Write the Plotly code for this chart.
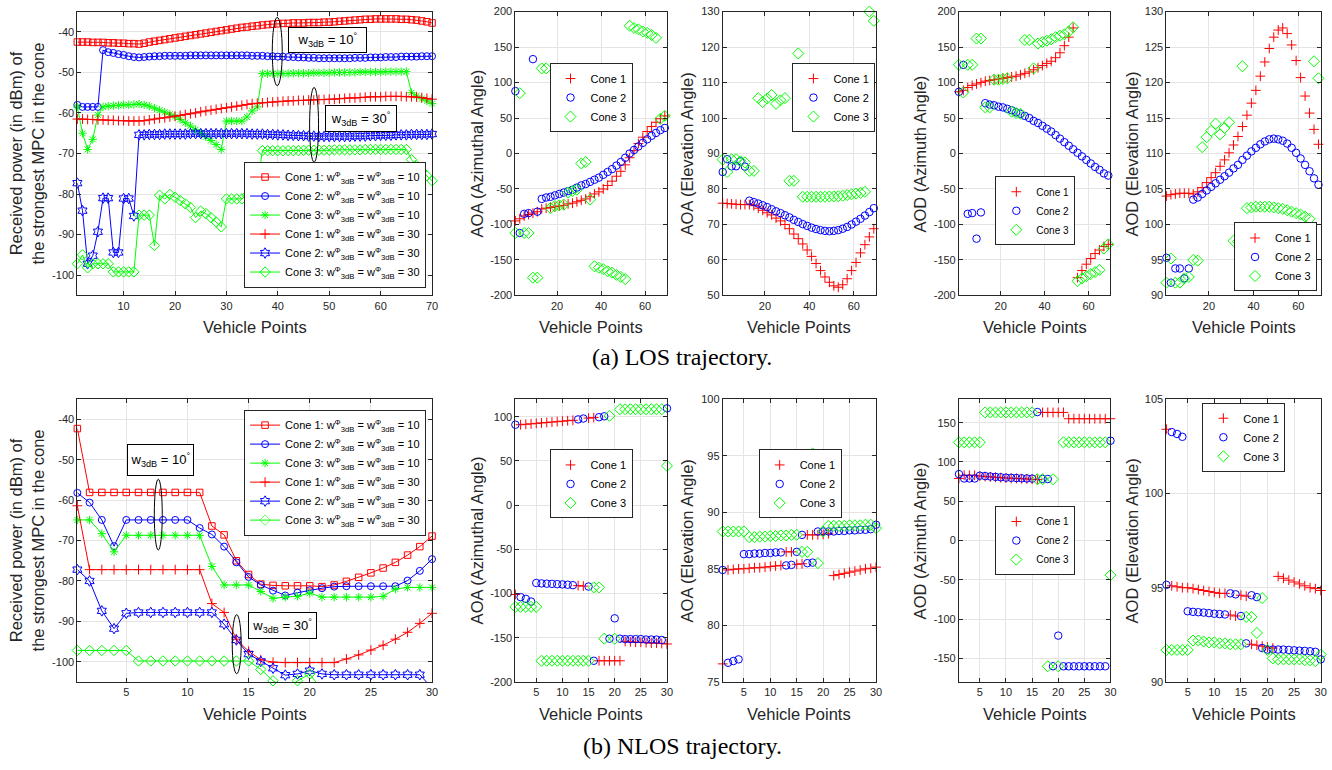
import plotly.graph_objects as go

W, H = 1332, 770
RED, BLUE, GREEN = "#FF0000", "#0000FF", "#00FF00"
AX = "#262626"

# ---------------- data ----------------
x_los = list(range(1, 71))
x_los_odd = list(range(1, 70, 2))
x_nlos = list(range(1, 31))

# (a) LOS power
los_c1_10 = [-42.5,-42.5,-42.5,-42.6,-42.6,-42.6,-42.7,-42.7,-42.8,-42.8,
             -42.9,-42.9,-43.0,-42.8,-42.5,-42.3,-42.1,-41.9,-41.7,-41.5,
             -41.3,-41.1,-40.9,-40.7,-40.5,-40.3,-40.1,-39.9,-39.7,-39.5,
             -39.3,-39.1,-38.9,-38.8,-38.6,-38.5,-38.3,-38.2,-38.1,-38.0,
             -37.9,-37.9,-37.8,-37.8,-37.8,-37.7,-37.7,-37.7,-37.6,-37.6,
             -37.5,-37.4,-37.3,-37.2,-37.1,-37.0,-36.9,-36.9,-36.8,-36.8,
             -36.8,-36.8,-36.8,-36.9,-36.9,-37.0,-37.1,-37.3,-37.5,-37.8]
los_c2_10 = [-58.0,-58.5,-58.5,-58.5,-58.5,-44.5,-45.0,-45.2,-45.5,-45.7,
             -46.0,-46.2,-46.3,-46.2,-46.1,-46.0,-46.0,-45.9,-45.9,-45.9,
             -45.9,-45.9,-45.8,-45.8,-45.8,-45.8,-45.8,-45.8,-45.8,-45.8,
             -45.8,-45.8,-45.8,-45.8,-45.9,-45.9,-45.9,-46.0,-46.0,-46.1,
             -46.1,-46.2,-46.2,-46.3,-46.3,-46.4,-46.4,-46.5,-46.5,-46.5,
             -46.5,-46.5,-46.5,-46.5,-46.4,-46.4,-46.4,-46.3,-46.3,-46.3,
             -46.2,-46.2,-46.2,-46.1,-46.1,-46.1,-46.1,-46.0,-46.0,-46.0]
los_c3_10 = [-58.5,-65.0,-69.0,-66.5,-60.5,-58.5,-58.3,-58.2,-58.1,-58.0,
             -58.0,-57.9,-57.8,-58.0,-58.3,-58.8,-59.3,-59.8,-60.3,-60.9,
             -61.6,-62.4,-63.2,-64.1,-65.0,-65.9,-66.8,-67.8,-69.0,-62.0,
             -62.0,-62.0,-62.0,-61.0,-59.5,-58.5,-50.3,-50.3,-50.3,-50.3,
             -50.3,-50.3,-50.2,-50.2,-50.2,-50.2,-50.1,-50.1,-50.1,-50.1,
             -50.0,-50.0,-50.0,-50.0,-50.0,-49.9,-49.9,-49.9,-49.9,-49.9,
             -49.8,-49.8,-49.8,-49.8,-49.8,-55.0,-55.8,-56.5,-57.0,-57.7]
los_c1_30 = [-61.5,-61.5,-61.6,-61.6,-61.7,-61.7,-61.8,-61.8,-61.9,-61.9,
             -62.0,-62.0,-62.0,-61.9,-61.7,-61.5,-61.3,-61.2,-61.0,-60.8,
             -60.6,-60.4,-60.2,-60.0,-59.7,-59.5,-59.3,-59.1,-58.9,-58.7,
             -58.5,-58.3,-58.1,-57.9,-57.7,-57.6,-57.5,-57.4,-57.3,-57.2,
             -57.1,-57.0,-57.0,-56.9,-56.9,-56.8,-56.8,-56.7,-56.7,-56.6,
             -56.6,-56.5,-56.4,-56.3,-56.3,-56.2,-56.1,-56.0,-56.0,-56.0,
             -55.9,-55.9,-55.9,-55.9,-56.0,-56.0,-56.1,-56.2,-56.4,-56.6]
los_c2_30 = [-77.3,-84.1,-97.2,-95.2,-89.3,-81.0,-81.0,-94.4,-94.4,-81.1,
             -81.1,-85.4,-65.4,-65.4,-65.3,-65.3,-65.3,-65.2,-65.2,-65.2,
             -65.2,-65.2,-65.1,-65.1,-65.1,-65.1,-65.1,-65.1,-65.1,-65.1,
             -65.1,-65.1,-65.1,-65.1,-65.2,-65.2,-65.2,-65.3,-65.3,-65.4,
             -65.4,-65.5,-65.5,-65.6,-65.6,-65.7,-65.7,-65.8,-65.8,-65.8,
             -65.8,-65.8,-65.8,-65.8,-65.7,-65.7,-65.7,-65.6,-65.6,-65.5,
             -65.5,-65.5,-65.4,-65.4,-65.4,-65.3,-65.3,-65.3,-65.3,-65.2]
los_c3_30 = [-97.2,-95.0,-98.2,-97.2,-97.2,-97.2,-97.2,-99.2,-99.2,-99.2,
             -99.2,-99.2,-85.2,-85.2,-85.2,-92.7,-80.3,-81.2,-80.1,-80.8,
             -81.6,-82.4,-83.3,-85.8,-84.2,-84.8,-85.8,-86.9,-88.1,-81.2,
             -81.2,-81.2,-81.2,-80.3,-79.3,-78.0,-69.3,-69.3,-69.3,-69.3,
             -69.3,-69.3,-69.3,-69.3,-69.2,-69.2,-69.2,-69.2,-69.2,-69.2,
             -69.1,-69.1,-69.1,-69.1,-69.1,-69.1,-69.0,-69.0,-69.0,-69.0,
             -69.0,-69.0,-69.0,-69.0,-69.0,-71.5,-73.0,-74.3,-75.5,-76.7]

# (a) LOS angles (odd vehicle points)
los_aoa_az_c1 = [-95,-92,-88,-86,-84,-82,-78,-77,-76,-75,-74,-73,-71,-70,-68,-66,-64,-61,
                 -57,-54,-50,-45,-39,-32,-25,-16,-6,4,14,23,31,38,44,49,53]
los_aoa_az_c2 = [88,-112,-85,-84,133,-82,-64,-62,-61,-59,-57,-55,-53,-51,-48,-45,-43,-40,
                 -37,-34,-30,-26,-22,-17,-12,-6,0,5,10,15,20,25,29,33,36]
los_aoa_az_c3 = [-112,85,-112,-112,-175,-175,120,120,-77,-74,-73,-72,-55,-53,-51,-14,-12,-65,
                 -159,-161,-163,-166,-168,-171,-174,-177,180,177,175,172,170,167,163,49,53]

los_aoa_el_c1 = [76.0,75.9,75.8,75.7,75.6,75.6,75.6,75.3,74.6,74.0,73.3,72.7,71.8,71.0,70.0,
                 68.8,67.3,66.0,64.5,62.8,61.0,59.0,57.0,55.2,53.7,52.7,52.3,53.0,54.7,57.0,
                 59.3,62.0,64.3,66.5,68.8]
los_aoa_el_c2 = [84.8,88.4,86.4,86.4,87.8,86.3,76.7,76.3,75.9,75.4,74.9,74.3,73.7,73.2,72.6,
                 72.0,71.3,70.7,70.1,69.6,69.1,68.7,68.4,68.2,68.1,68.2,68.4,68.8,69.3,70.0,
                 70.8,71.6,72.5,73.5,74.6]
los_aoa_el_c3 = [88.3,84.8,88.4,88.4,87.8,87.5,85.1,85.1,105.6,104.5,105.5,106.5,104.0,105.0,
                 105.6,82.3,82.3,118.2,77.8,77.8,77.8,77.8,77.8,77.8,77.9,77.9,78.0,78.1,78.3,
                 78.5,78.7,78.9,79.2,130.0,127.4]

los_aod_az_c1 = [87,89,93,96,98,100,102,103,104,105,106,107,108,109,111,113,115,118,121,124,
                 127,130,135,142,152,164,177,-175,-165,-156,-148,-141,-136,-131,-128]
los_aod_az_c2 = [87,125,-85,-84,-120,-83,71,69,68,66,65,63,61,58,56,53,50,46,43,39,35,31,26,
                 21,16,11,6,1,-4,-9,-14,-19,-23,-28,-31]
los_aod_az_c3 = [125,86,125,125,162,162,65,65,104,104,105,106,59,57,56,160,160,120,155,157,
                 159,161,164,166,168,172,178,-180,-176,-173,-170,-167,-164,-134,-128]

los_aod_el_c1 = [104.0,104.2,104.3,104.4,104.4,104.4,104.3,104.6,105.2,105.9,106.6,107.3,108.2,
                 109.1,110.1,111.2,112.4,113.8,115.4,117.1,118.9,120.9,122.9,124.8,126.4,127.4,
                 127.7,126.9,125.3,123.1,120.7,118.1,115.7,113.4,111.3]
los_aod_el_c2 = [95.3,91.8,93.8,93.8,92.4,93.8,103.5,103.8,104.3,104.8,105.3,105.8,106.3,106.8,
                 107.3,107.9,108.4,109.1,109.7,110.3,110.8,111.3,111.7,112.0,112.1,112.0,111.8,
                 111.4,110.8,110.1,109.3,108.4,107.5,106.5,105.6]
los_aod_el_c3 = [91.8,95.2,91.8,91.8,92.4,92.6,95.0,94.9,110.9,112.3,113.2,114.2,112.7,113.6,
                 114.4,97.7,97.6,122.3,102.3,102.4,102.5,102.5,102.5,102.5,102.4,102.3,102.2,
                 102.0,101.8,101.6,101.4,101.1,100.8,123.0,120.6]

# (b) NLOS power
nlos_c1_10 = [-42.3,-58.1,-58.1,-58.1,-58.1,-58.1,-58.1,-58.1,-58.1,-58.1,-58.1,-66.4,-68.6,-75.0,
              -78.4,-80.8,-81.1,-81.2,-81.2,-81.2,-81.4,-81.0,-80.1,-79.1,-78.0,-76.8,-75.4,-73.6,
              -71.5,-68.9]
nlos_c2_10 = [-58.2,-60.6,-64.9,-71.4,-64.9,-64.9,-64.9,-64.9,-64.9,-64.9,-66.9,-68.5,-71.5,-75.4,
              -79.0,-81.0,-82.4,-83.6,-82.9,-82.3,-81.8,-81.4,-81.3,-81.3,-81.3,-81.3,-81.3,-79.9,
              -77.5,-74.6]
nlos_c3_10 = [-64.9,-64.9,-68.3,-72.8,-68.7,-68.7,-68.7,-68.7,-68.7,-68.7,-68.7,-76.4,-81.0,-81.0,
              -81.0,-82.6,-84.3,-84.0,-83.8,-83.0,-84.0,-84.0,-84.0,-84.0,-84.0,-83.8,-82.0,-81.6,
              -81.6,-81.6]
nlos_c1_30 = [-61.4,-77.2,-77.2,-77.2,-77.2,-77.2,-77.2,-77.2,-77.2,-77.2,-77.2,-85.6,-87.8,-94.4,
              -97.4,-99.5,-100.1,-100.2,-100.2,-100.2,-100.2,-100.2,-99.3,-98.3,-97.1,-95.9,-94.4,
              -92.7,-90.5,-88.0]
nlos_c2_30 = [-77.2,-80.0,-87.4,-91.8,-88.0,-87.8,-87.8,-87.8,-87.8,-87.8,-87.8,-87.8,-90.7,-94.6,
              -98.1,-99.9,-101.6,-103.3,-103.0,-102.2,-103.0,-103.2,-103.2,-103.2,-103.2,-103.2,
              -103.2,-103.2,-103.2,-106.5]
nlos_c3_30 = [-97.2,-97.2,-97.2,-97.2,-97.2,-99.8,-99.8,-99.8,-99.8,-99.8,-99.8,-99.8,-99.8,-99.8,
              -99.8,-101.9,-104.7,-106.5,-104.7,-103.0,-107.0,-108.0,-108.0,-108.0,-108.0,-108.0,
              -108.0,-108.0,-108.0,-108.0]

# (b) NLOS angles
nlos_aoa_az_c1 = [-101,91,91.5,92,92.5,93,93.5,94,94.5,95,95.5,96,-91,-91.5,98.5,99,-176,-176,
                  -176,-176,-176,-154,-154.5,-155,-155,-155.5,-156,-156,-156.5,-157]
nlos_aoa_az_c2 = [91,-104,-106,-109,-88,-88.5,-88.8,-89,-89.3,-89.6,-90,-90.5,97,98,-92,-176,99.5,
                  100.5,-151,-128,-151,-151.5,-151.5,-151.5,-151.5,-152,-152,-152,-152.5,109.5]
nlos_aoa_az_c3 = [-115,-115,-115,-115,-115,-176,-176,-176,-176,-176,-176,-176,-176,-176,-176,-93,
                  -93,-151,101,-151,108.5,108.5,108.5,108.5,108.5,108.5,108.5,108.5,108.5,44.5]

nlos_aoa_el_c1 = [76.6,84.9,84.95,85.0,85.0,85.05,85.1,85.1,85.15,85.2,85.25,85.3,86.5,86.5,85.4,
                  85.45,88.0,88.0,88.0,88.05,88.1,84.4,84.5,84.6,84.7,84.8,84.9,85.0,85.05,85.15]
nlos_aoa_el_c2 = [84.9,76.7,76.85,77.0,86.3,86.3,86.35,86.35,86.4,86.4,86.45,86.45,85.3,85.35,86.5,
                  88.0,85.5,85.55,88.3,88.3,88.3,88.3,88.35,88.35,88.4,88.4,88.45,88.45,88.5,88.9]
nlos_aoa_el_c3 = [88.3,88.3,88.3,88.3,88.3,87.8,87.8,87.85,87.85,87.9,87.9,87.95,87.95,88.0,88.0,
                  86.5,86.5,95.2,85.5,88.3,88.8,88.8,88.8,88.8,88.85,88.85,88.85,88.9,88.9,88.6]

nlos_aod_az_c1 = [79,83,83,83,82,81.5,81,80.5,80,79.5,79.2,79,78.7,78.4,78,77.8,163,163,163,163,163,
                  155,155,155,155,155,155,155,155,155]
nlos_aod_az_c2 = [84.5,79,79,79,82.5,82,81.5,81,80.5,80,79.8,79.5,79.2,79,78.8,163.5,78.5,78.3,-160,
                  -121,-160,-160,-160,-160,-160,-160,-160,-160,-160,127]
nlos_aod_az_c3 = [125,125,125,125,125,163,163,163,163,163,163,163,163,163,163,78,78,-160,78,-160,
                  125,125,125,125,125,125,125,125,125,-44]

nlos_aod_el_c1 = [103.4,95.1,95.05,95.0,95.0,94.95,94.9,94.85,94.8,94.75,94.7,94.7,93.55,93.5,94.6,
                  94.55,92.0,91.95,91.9,91.85,91.8,95.6,95.5,95.4,95.3,95.2,95.1,95.0,94.95,94.85]
nlos_aod_el_c2 = [95.15,103.25,103.15,103.0,93.75,93.72,93.7,93.68,93.65,93.62,93.6,93.58,94.7,94.65,
                  93.5,92.05,94.6,94.5,91.8,91.72,91.72,91.72,91.72,91.7,91.68,91.66,91.65,91.63,
                  91.6,91.2]
nlos_aod_el_c3 = [91.7,91.7,91.7,91.7,91.7,92.2,92.2,92.15,92.1,92.1,92.05,92.05,92.0,92.0,92.0,
                  93.45,93.45,92.6,94.45,91.7,91.25,91.2,91.2,91.2,91.2,91.2,91.15,91.15,91.1,91.45]

# ---------------- layout geometry ----------------
cols = [(77.7, 434.0), (517.7, 670.0), (726.0, 880.0), (963.3, 1115.5), (1171.7, 1326.7)]
rows = [(5.7, 294.0), (399.3, 686.7)]


def px(v):
    return v / W


def py(v):
    return 1 - v / H


panels = [
    dict(xr=[1, 70], xt=list(range(10, 71, 10)), yr=[-105, -35], yt=list(range(-100, -39, 10))),
    dict(xr=[1, 70], xt=[20, 40, 60], yr=[-200, 200], yt=list(range(-200, 201, 50))),
    dict(xr=[1, 70], xt=[20, 40, 60], yr=[50, 130], yt=list(range(50, 131, 10))),
    dict(xr=[1, 70], xt=[20, 40, 60], yr=[-200, 200], yt=list(range(-200, 201, 50))),
    dict(xr=[1, 70], xt=[20, 40, 60], yr=[90, 130], yt=list(range(90, 131, 5))),
    dict(xr=[1, 30], xt=list(range(5, 31, 5)), yr=[-105, -35], yt=list(range(-100, -39, 10))),
    dict(xr=[1, 30], xt=list(range(5, 31, 5)), yr=[-200, 120], yt=list(range(-200, 101, 50))),
    dict(xr=[1, 30], xt=list(range(5, 31, 5)), yr=[75, 100], yt=list(range(75, 101, 5))),
    dict(xr=[1, 30], xt=list(range(5, 31, 5)), yr=[-180, 180], yt=list(range(-150, 151, 50))),
    dict(xr=[1, 30], xt=list(range(5, 31, 5)), yr=[90, 105], yt=[90, 95, 100, 105]),
]

fig = go.Figure()
layout = {}
tickfont = dict(family="Liberation Sans, Arial, sans-serif", size=11, color=AX)
for i, p in enumerate(panels):
    n = i + 1
    r = rows[i // 5]
    c = cols[i % 5]
    xs = "" if n == 1 else str(n)
    common = dict(showline=True, linecolor=AX, linewidth=1, mirror="ticks", ticks="inside",
                  ticklen=4, tickcolor=AX, showgrid=True, gridcolor="#e4e4e4", gridwidth=1,
                  zeroline=False, tickfont=tickfont)
    layout["xaxis" + xs] = dict(domain=[px(c[0]), px(c[1])], range=p["xr"], anchor="y" + xs,
                                tickvals=p["xt"], ticktext=[str(v) for v in p["xt"]], **common)
    layout["yaxis" + xs] = dict(domain=[py(r[1]), py(r[0])], range=p["yr"], anchor="x" + xs,
                                tickvals=p["yt"], ticktext=[str(v) for v in p["yt"]], **common)


def ax(n):
    s = "" if n == 1 else str(n)
    return "x" + s, "y" + s, "legend" + s


def lab(c, w):
    return f"Cone {c}: w<sup>Φ</sup><sub>3dB</sub> = w<sup>Φ</sup><sub>3dB</sub> = {w}"


def power_panel(n, x, series):
    xa, ya, lg = ax(n)
    for name, y, color, sym, size in series:
        op = [1 if v >= -105 else 0 for v in y]
        fig.add_trace(go.Scatter(
            x=x, y=y, mode="lines+markers", name=name, xaxis=xa, yaxis=ya, legend=lg,
            line=dict(color=color, width=1), cliponaxis=False,
            marker=dict(symbol=sym, size=size, color=color, opacity=op,
                        line=dict(color=color, width=1))))


def angle_panel(n, x, c1, c2, c3):
    xa, ya, lg = ax(n)
    for name, y, color, sym, size in [("Cone 1", c1, RED, "cross-thin-open", 7),
                                      ("Cone 2", c2, BLUE, "circle-open", 7.5),
                                      ("Cone 3", c3, GREEN, "diamond-open", 8.5)]:
        fig.add_trace(go.Scatter(
            x=x, y=y, mode="markers", name=name, xaxis=xa, yaxis=ya, legend=lg,
            cliponaxis=False,
            marker=dict(symbol=sym, size=size, color=color, line=dict(color=color, width=1))))


power_panel(1, x_los, [
    (lab(1, 10), los_c1_10, RED, "square-open", 6.5),
    (lab(2, 10), los_c2_10, BLUE, "circle-open", 7),
    (lab(3, 10), los_c3_10, GREEN, "asterisk-open", 7),
    (lab(1, 30), los_c1_30, RED, "cross-thin-open", 7),
    (lab(2, 30), los_c2_30, BLUE, "hexagram-open", 8),
    (lab(3, 30), los_c3_30, GREEN, "diamond-open", 8),
])
angle_panel(2, x_los_odd, los_aoa_az_c1, los_aoa_az_c2, los_aoa_az_c3)
angle_panel(3, x_los_odd, los_aoa_el_c1, los_aoa_el_c2, los_aoa_el_c3)
angle_panel(4, x_los_odd, los_aod_az_c1, los_aod_az_c2, los_aod_az_c3)
angle_panel(5, x_los_odd, los_aod_el_c1, los_aod_el_c2, los_aod_el_c3)
power_panel(6, x_nlos, [
    (lab(1, 10), nlos_c1_10, RED, "square-open", 6.5),
    (lab(2, 10), nlos_c2_10, BLUE, "circle-open", 7),
    (lab(3, 10), nlos_c3_10, GREEN, "asterisk-open", 7),
    (lab(1, 30), nlos_c1_30, RED, "cross-thin-open", 7),
    (lab(2, 30), nlos_c2_30, BLUE, "hexagram-open", 8),
    (lab(3, 30), nlos_c3_30, GREEN, "diamond-open", 8),
])
angle_panel(7, x_nlos, nlos_aoa_az_c1, nlos_aoa_az_c2, nlos_aoa_az_c3)
angle_panel(8, x_nlos, nlos_aoa_el_c1, nlos_aoa_el_c2, nlos_aoa_el_c3)
angle_panel(9, x_nlos, nlos_aod_az_c1, nlos_aod_az_c2, nlos_aod_az_c3)
angle_panel(10, x_nlos, nlos_aod_el_c1, nlos_aod_el_c2, nlos_aod_el_c3)

# ---------------- legends ----------------
def legend(x, y, xanchor, yanchor, size):
    return dict(x=px(x), y=py(y), xanchor=xanchor, yanchor=yanchor, bgcolor="white",
                bordercolor=AX, borderwidth=1, itemwidth=30, tracegroupgap=0,
                font=dict(family="Liberation Sans, Arial, sans-serif", size=size, color="black"))

layout["legend"] = legend(428, 222, "right", "middle", 11)
layout["legend2"] = legend(593.7, 93, "center", "middle", 11)
layout["legend3"] = legend(837.7, 93, "center", "middle", 11)
layout["legend4"] = legend(1040, 208, "center", "middle", 10)
layout["legend5"] = legend(1323, 290, "right", "bottom", 11)
layout["legend6"] = legend(428, 410, "right", "top", 11)
layout["legend7"] = legend(593.7, 485.5, "center", "middle", 11)
layout["legend8"] = legend(803.8, 485.5, "center", "middle", 11)
layout["legend9"] = legend(1040, 543, "center", "middle", 10)
layout["legend10"] = legend(1249.5, 403, "center", "top", 11)

# ---------------- titles / annotations ----------------
TF = dict(family="Liberation Sans, Arial, sans-serif", size=16.5, color=AX)
ann = []
ylabels = ["Received power (in dBm) of<br>the strongest MPC in the cone",
           "AOA (Azimuthal Angle)", "AOA (Elevation Angle)",
           "AOD (Azimuth Angle)", "AOD (Elevation Angle)"]
ylab_x = [27, 479, 690, 924, 1137]
for ri, (ycenter, xlab_y) in enumerate([(150, 326), (543, 719)]):
    for ci in range(5):
        ann.append(dict(text=ylabels[ci], x=px(ylab_x[ci]), y=py(ycenter), xref="paper",
                        yref="paper", textangle=-90, showarrow=False, font=TF,
                        xanchor="center", yanchor="middle"))
        cx = (cols[ci][0] + cols[ci][1]) / 2
        ann.append(dict(text="Vehicle Points", x=px(cx), y=py(xlab_y), xref="paper",
                        yref="paper", showarrow=False, font=TF, xanchor="center",
                        yanchor="middle"))

CF = dict(family="Liberation Serif, Times New Roman, serif", size=24, color="black")
ann.append(dict(text="(a) LOS trajectory.", x=px(685), y=py(357), xref="paper", yref="paper",
                showarrow=False, font=CF, xanchor="center", yanchor="middle"))
ann.append(dict(text="(b) NLOS trajectory.", x=px(686), y=py(752), xref="paper", yref="paper",
                showarrow=False, font=CF, xanchor="center", yanchor="middle"))

BF = dict(family="Liberation Sans, Arial, sans-serif", size=13, color="black")
for cx, cy, bw, bh, deg in [(328.8, 34.5, 79, 25.6, 10), (362.5, 114.7, 71.6, 27.3, 30),
                            (160.8, 461.5, 67, 31.6, 10), (284.0, 629.7, 68.6, 27.3, 30)]:
    ann.append(dict(text=f"w<sub>3dB</sub> = {deg}<sup>°</sup>", x=px(cx), y=py(cy),
                    xref="paper", yref="paper", showarrow=False, font=BF, xanchor="center",
                    yanchor="middle", width=bw - 2, height=bh - 2, bgcolor="white",
                    bordercolor="black", borderwidth=1, borderpad=0, align="center",
                    valign="middle"))

shapes = []
for x0, x1, y0, y1 in [(273.5, 283.5, 11.5, 81.0), (311.0, 320.0, 82.7, 158.7),
                       (155.0, 163.0, 480.7, 552.7), (233.3, 242.3, 618.3, 678.3)]:
    shapes.append(dict(type="circle", xref="paper", yref="paper", x0=px(x0), x1=px(x1),
                       y0=py(y1), y1=py(y0), line=dict(color="black", width=1)))

fig.update_layout(width=W, height=H, margin=dict(l=0, r=0, t=0, b=0),
                  paper_bgcolor="white", plot_bgcolor="white", showlegend=True,
                  annotations=ann, shapes=shapes, **layout)

fig.write_html("out.html")
